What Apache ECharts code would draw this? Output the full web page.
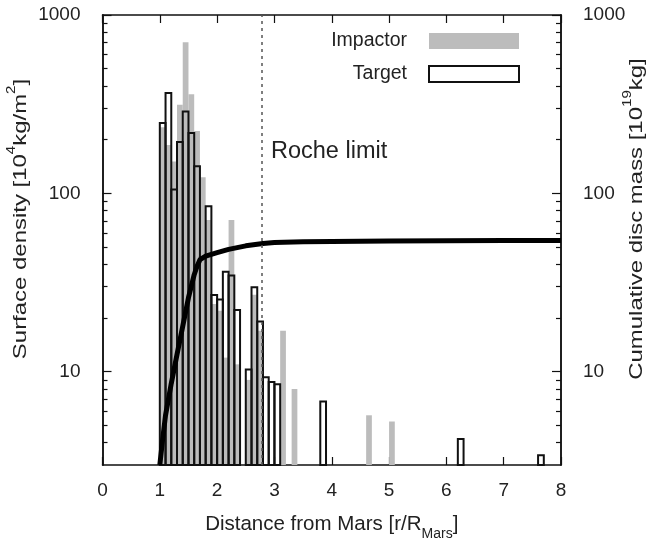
<!DOCTYPE html>
<html><head><meta charset="utf-8">
<script src="https://cdn.jsdelivr.net/npm/echarts@6/dist/echarts.min.js"></script>
<style>html,body{margin:0;padding:0;background:#fff}#c{width:654px;height:542px}</style>
</head><body><div id="c"></div>
<script>
// ---- data ----
const binWidth = 0.1;
const impactorBins = [1.0,1.1,1.2,1.3,1.4,1.5,1.6,1.7,1.8,1.9,2.0,2.1,2.2,2.3,2.5,2.6,2.7,3.1,3.3,4.6,5.0];
const impactorVals = [235,187,151,314,703,360,224,123,71,24,22,12,71,11,9,27,17,17,8,5.7,5.26];
const targetBins = [1.0,1.1,1.2,1.3,1.4,1.5,1.6,1.7,1.8,1.9,2.0,2.1,2.2,2.3,2.5,2.6,2.7,2.8,2.9,3.0,3.8,6.2,7.6];
const targetVals = [248,365,105,194,288,218,142,44,84.6,26.9,25.4,36.3,34.6,22.2,10.3,29.8,19.1,9.3,8.75,8.5,6.8,4.2,3.4];
const cumR = [1.0,1.05,1.1,1.2,1.3,1.4,1.5,1.6,1.65,1.7,1.8,1.9,2.0,2.2,2.5,2.8,3.0,3.5,4.0,5.0,6.0,7.0,8.0];
const cumMass = [3.0,4.2,5.7,8.6,12.5,18,26,35,39,42.5,44.5,45.5,46.5,48.5,50.8,52.4,53,53.5,53.7,54,54.2,54.4,54.5];
const rocheLimit = 2.77;
const xTicks = [0,1,2,3,4,5,6,7,8];
const yMajor = [10,100,1000];
const yMinor = [4,5,6,7,8,9,20,30,40,50,60,70,80,90,200,300,400,500,600,700,800,900];
const yMin = 3, yMax = 1000;

const FONT = '"Liberation Sans", Arial, Helvetica, sans-serif';
const TXT = '#222';

const chart = echarts.init(document.getElementById('c'), null, {renderer:'canvas'});

function barRender(fill, stroke, lw){
  return function(params, api){
    const x0 = api.value(0), v = api.value(1);
    const p0 = api.coord([x0, v]);
    const p1 = api.coord([x0 + binWidth, yMin]);
    return {type:'rect', shape:{x:p0[0], y:p0[1], width:p1[0]-p0[0], height:p1[1]-p0[1]},
      style:{fill:fill, stroke:stroke, lineWidth:lw}};
  };
}

function logAxis(pos, ticks, len, showLabel){
  return {
    type:'log', logBase:10, min:yMin, max:yMax, position:pos,
    axisLine:{show:true, lineStyle:{color:'#111', width:1.5}},
    axisTick:{show:true, inside:true, length:len, customValues:ticks, lineStyle:{color:'#111', width:1.2}},
    axisLabel:{show:showLabel, customValues:yMajor, margin:22, color:TXT, fontSize:19, fontFamily:FONT,
      formatter:function(v){ return String(Math.round(v)); }},
    minorTick:{show:false}, splitLine:{show:false}
  };
}

const titleRich = {
  b:{fontSize:19, fontFamily:FONT, fill:TXT, color:TXT, lineHeight:24, verticalAlign:'bottom'},
  sup:{fontSize:12, fontFamily:FONT, fill:TXT, color:TXT, lineHeight:12, verticalAlign:'top'}
};

const option = {
  backgroundColor:'#fff',
  animation:false,
  grid:{left:102.5, right:93, top:15, bottom:77, containLabel:false, outerBoundsMode:'none'},
  legend:{
    orient:'vertical', right:134, top:31, align:'right', itemWidth:90, itemHeight:16, itemGap:13,
    padding:0, selectedMode:false,
    textStyle:{color:TXT, fontSize:19.5, fontFamily:FONT, lineHeight:20, padding:[0,17,0,0]},
    data:[
      {name:'Impactor', icon:'rect', itemStyle:{color:'#bcbcbc', borderWidth:0}},
      {name:'Target', icon:'rect', itemStyle:{color:'#ffffff', borderColor:'#111', borderWidth:2}}
    ]
  },
  xAxis:[{
    type:'value', min:0, max:8, interval:1, position:'bottom',
    axisLine:{show:true, lineStyle:{color:'#111', width:1.5}},
    axisTick:{show:true, inside:true, length:8, lineStyle:{color:'#111', width:1.2}},
    axisLabel:{show:true, margin:16, color:TXT, fontSize:19, fontFamily:FONT,
      customValues:xTicks},
    splitLine:{show:false},
    name:'{b|Distance from Mars [r/R}{sub|Mars}{b|]}', nameLocation:'middle', nameGap:49,
    nameTextStyle:{color:TXT, fontSize:20.5, fontFamily:FONT, rich:{
      b:{fontSize:20.5, fontFamily:FONT, color:TXT, lineHeight:27, verticalAlign:'top'},
      sub:{fontSize:14, fontFamily:FONT, color:TXT, lineHeight:14, verticalAlign:'bottom'}
    }}
  },{
    type:'value', min:0, max:8, interval:1, position:'top',
    axisLine:{show:true, lineStyle:{color:'#111', width:1.5}},
    axisTick:{show:true, inside:true, length:8, lineStyle:{color:'#111', width:1.2}},
    axisLabel:{show:false}, splitLine:{show:false}
  }],
  yAxis:[
    logAxis('left', yMajor, 9, true),
    logAxis('left', yMinor, 5, false),
    logAxis('right', yMajor, 9, true),
    logAxis('right', yMinor, 5, false)
  ],
  series:[
    {name:'Impactor', type:'custom', xAxisIndex:0, yAxisIndex:0,
      renderItem: barRender('#bcbcbc', null, 0),
      itemStyle:{color:'#bcbcbc'},
      encode:{x:0, y:1},
      data: impactorBins.map((b,i)=>[b, impactorVals[i]]), z:2},
    {name:'Target', type:'custom', xAxisIndex:0, yAxisIndex:0,
      renderItem: barRender('rgba(0,0,0,0)', '#111', 2),
      itemStyle:{color:'#fff', borderColor:'#111'},
      encode:{x:0, y:1},
      data: targetBins.map((b,i)=>[b, targetVals[i]]), z:3},
    {name:'Cumulative', type:'line', xAxisIndex:0, yAxisIndex:2, showSymbol:false, symbol:'none',
      lineStyle:{color:'#000', width:5}, itemStyle:{color:'#000'}, clip:true, z:4,
      data: cumR.map((r,i)=>[r, cumMass[i]]),
      markLine:{silent:true, symbol:['none','none'], label:{show:false},
        lineStyle:{color:'#555', width:1.5, type:[3,4]},
        data:[{xAxis:rocheLimit}]}
    }
  ],
  graphic:[
    {type:'text', left:271, top:140, style:{text:'Roche limit', fontSize:23.5, fontFamily:FONT, fill:TXT}},
    {type:'text', x:18, y:219, rotation:Math.PI/2, scaleX:1.26, scaleY:1,
      style:{text:'{b|Surface density [10}{sup|4}{b|kg/m}{sup|2}{b|]}', rich:titleRich,
        align:'center', verticalAlign:'middle', fontFamily:FONT, fontSize:19, fill:TXT}},
    {type:'text', x:634, y:219, rotation:Math.PI/2, scaleX:1.26, scaleY:1,
      style:{text:'{b|Cumulative disc mass [10}{sup|19}{b|kg]}', rich:titleRich,
        align:'center', verticalAlign:'middle', fontFamily:FONT, fontSize:19, fill:TXT}}
  ]
};
chart.setOption(option);
</script>
</body></html>
